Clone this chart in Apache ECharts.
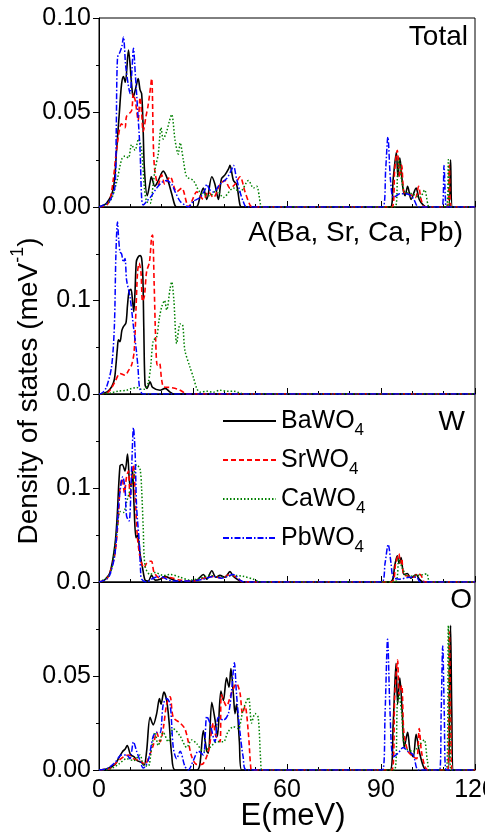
<!DOCTYPE html>
<html><head><meta charset="utf-8">
<script src="https://cdn.jsdelivr.net/npm/echarts@6/dist/echarts.min.js"></script>
<style>html,body{margin:0;padding:0;background:#fff}#c{width:485px;height:834px}</style>
</head><body><div id="c"></div>
<script>
const compounds = ['BaWO4', 'SrWO4', 'CaWO4', 'PbWO4'];
const panelLabels = ['Total', 'A(Ba, Sr, Ca, Pb)', 'W', 'O'];
const xTickLabels = ['0', '30', '60', '90', '120'];
const yTickLabels = [['0.00', '0.05', '0.10'], ['0.0', '0.1'], ['0.0', '0.1'], ['0.00', '0.05']];
const yMax = [0.10, 0.2, 0.2, 0.10];
const yStep = [0.05, 0.1, 0.1, 0.05];

// ---- Total DOS ----
const totalBa = [[0,0],[2.4,0.002],[4.6,0.01],[5.6,0.03],[6.5,0.05],[7.2,0.065],[7.8,0.069],[8.4,0.066],[9.4,0.083],[10.4,0.065],[10.9,0.058],[11.6,0.062],[12.5,0.068],[13.1,0.062],[13.6,0.06],[14,0.046],[14.5,0.02],[15.4,0.006],[16.3,0.013],[16.7,0.016],[17.8,0.011],[18.9,0.014],[20.5,0.019],[21.8,0.015],[23.2,0.007],[24.2,0.001],[24.8,0],[31,0],[32.2,0.005],[33.3,0.01],[34.4,0.004],[36,0.016],[37,0.012],[38.1,0.004],[39.1,0.015],[40.2,0.017],[41.3,0.02],[41.8,0.022],[42.9,0.014],[43.9,0.012],[45,0.001],[45.6,0],[93,0],[93.9,0.015],[94.9,0.029],[95.4,0.016],[96,0.026],[97,0.01],[97.7,0.006],[98.5,0.011],[99.6,0.004],[101.2,0.01],[102.2,0.004],[103.5,0.001],[104.5,0],[111.6,0],[112.2,0.025],[112.8,0],[120,0]];
const totalSr = [[0,0],[2.4,0.001],[3.5,0.004],[4.6,0.015],[5.6,0.03],[7.2,0.044],[8.3,0.042],[8.8,0.048],[10.4,0.051],[10.9,0.06],[11.6,0.056],[12.5,0.046],[13.1,0.058],[13.6,0.05],[14.1,0.04],[15,0.048],[15.6,0.053],[16.2,0.06],[16.8,0.068],[17.4,0.03],[17.9,0.018],[18.9,0.012],[20,0.017],[21,0.012],[22.7,0.016],[24.8,0.008],[26.4,0.01],[28,0.002],[28.6,0],[29.6,0.003],[31.2,0.008],[33.3,0.004],[34.9,0.008],[36.5,0.005],[38.6,0.012],[40.2,0.014],[41.8,0.01],[43.4,0.012],[45,0.016],[46.6,0.008],[48.2,0.001],[49,0],[93.5,0],[94.4,0.02],[95.2,0.03],[96,0.016],[96.6,0.022],[97.3,0.008],[98.5,0.007],[100,0.006],[101,0.005],[102,0.011],[102.8,0.004],[104,0],[111.2,0],[111.8,0.022],[112.4,0],[120,0]];
const totalCa = [[0,0],[3.5,0.003],[5.6,0.013],[7.2,0.025],[8.3,0.027],[9.4,0.026],[10.4,0.033],[11.5,0.03],[12.6,0.036],[13.6,0.03],[14.5,0.01],[15.2,0.003],[16.3,0.002],[17.3,0.012],[17.9,0.02],[18.9,0.028],[19.8,0.042],[20.5,0.036],[21.6,0.04],[22.4,0.045],[23.2,0.049],[24.3,0.035],[25.3,0.028],[25.9,0.034],[26.9,0.025],[28,0.016],[30.1,0.014],[32.2,0.008],[35.4,0.006],[37.6,0.009],[39.7,0.005],[42.9,0.01],[45,0.008],[47.7,0.014],[49.3,0.01],[50.3,0.011],[51.6,0.001],[52,0],[94.5,0],[95.3,0.018],[95.8,0.025],[96.6,0.014],[97.6,0.008],[100,0.007],[102.4,0.005],[103.9,0.009],[105,0.001],[105.5,0],[110.9,0],[111.5,0.025],[112,0],[120,0]];
const totalPb = [[0,0],[1.4,0.001],[3.5,0.0035],[5.1,0.011],[5.5,0.04],[5.9,0.079],[6.7,0.082],[7.3,0.085],[7.8,0.09],[8.5,0.075],[9.3,0.065],[9.9,0.06],[10.5,0.072],[11,0.084],[11.6,0.07],[12,0.06],[13.1,0.03],[13.6,0.005],[14.1,0.001],[15.2,0.003],[16.8,0.006],[18.4,0.01],[20,0.013],[21.6,0.014],[23.2,0.012],[24.3,0.008],[25.9,0.003],[27.4,0.001],[28.5,0],[30.1,0.003],[32.2,0.005],[33.8,0.009],[34.4,0.012],[35.4,0.009],[36.5,0.008],[38.6,0.012],[40.7,0.015],[42.4,0.02],[42.9,0.022],[43.9,0.015],[45,0.008],[46,0.003],[47.1,0],[90.6,0],[91.5,0.02],[92.2,0.037],[93,0.015],[93.9,0.005],[95,0.006],[96,0.007],[98,0.007],[99.5,0.006],[100.5,0.004],[102,0],[109.5,0],[110.1,0.022],[110.6,0.003],[110.9,0],[120,0]];

// ---- A-site partial DOS ----
const aBa = [[0,0],[2.4,0.002],[3.5,0.005],[4.6,0.012],[5.1,0.02],[5.9,0.05],[6.2,0.058],[6.7,0.056],[7.3,0.068],[7.8,0.072],[8.6,0.076],[9.1,0.095],[9.6,0.11],[10.2,0.112],[10.7,0.1],[11.1,0.088],[11.5,0.11],[11.9,0.141],[12.4,0.146],[13.1,0.148],[13.6,0.145],[14,0.125],[14.3,0.07],[14.7,0.01],[15.3,0.006],[16.3,0.013],[17.1,0.007],[19.5,0.004],[21.1,0.006],[22.7,0.002],[23.7,0],[120,0]];
const aSr = [[0,0],[2.4,0.001],[3.5,0.004],[5.1,0.013],[6.7,0.022],[8.3,0.02],[9.4,0.025],[10.4,0.031],[11.2,0.045],[11.8,0.09],[12.3,0.13],[12.8,0.14],[13.4,0.13],[13.9,0.099],[14.5,0.105],[15.2,0.131],[16.1,0.141],[16.8,0.168],[17.1,0.17],[17.6,0.118],[18.1,0.057],[18.6,0.031],[19.3,0.033],[20,0.015],[20.7,0.0075],[22.7,0.007],[25.3,0.005],[26.9,0.002],[27.6,0],[120,0]];
const aCa = [[0,0],[3.5,0.001],[6,0.003],[8.8,0.004],[10.5,0.006],[12,0.007],[13.5,0.005],[14.5,0.005],[15.7,0.012],[16.5,0.03],[17.3,0.057],[18.4,0.061],[19.2,0.08],[20,0.093],[20.9,0.1],[21.6,0.09],[22.7,0.113],[23.2,0.12],[23.9,0.1],[24.8,0.054],[25.9,0.075],[26.7,0.074],[27.4,0.047],[29,0.029],[30.1,0.018],[31.2,0.006],[32.2,0.002],[34.4,0.003],[36.5,0.002],[38.6,0.004],[41,0.003],[43,0.003],[45,0.001],[46.5,0],[120,0]];
const aPb = [[0,0],[1,0.001],[2.4,0.0075],[4,0.029],[4.9,0.072],[5.4,0.15],[5.9,0.184],[6.3,0.165],[6.7,0.152],[7.2,0.15],[7.8,0.141],[8.3,0.145],[8.8,0.122],[9.9,0.104],[11,0.072],[11.8,0.05],[12.4,0.03],[12.9,0.0075],[13.6,0.001],[14.2,0],[120,0]];

// ---- W partial DOS ----
const wBa = [[0,0],[1.4,0.001],[3.5,0.01],[5.1,0.04],[5.8,0.07],[6.7,0.1235],[7.4,0.125],[8.3,0.118],[9.1,0.136],[9.9,0.102],[10.4,0.105],[10.7,0.12],[11.2,0.08],[11.8,0.047],[12.3,0.05],[13.1,0.03],[13.9,0.015],[14.7,0.002],[15.7,0.001],[16.8,0.007],[17.9,0.002],[19.5,0.003],[21.1,0.006],[23.2,0.003],[25.9,0],[31.2,0.002],[33.3,0.008],[34.4,0.003],[36,0.012],[37.3,0.005],[38.6,0.007],[40.2,0.005],[41.8,0.011],[42.9,0.006],[45,0.001],[46,0],[92.9,0],[94.4,0.018],[95.2,0.028],[95.8,0.02],[96.4,0.026],[97.3,0.008],[98.4,0.009],[99.5,0.004],[101.2,0.008],[102.2,0.003],[103.5,0],[120,0]];
const wSr = [[0,0],[2.4,0.003],[3.5,0.01],[5.1,0.03],[6.2,0.07],[6.7,0.1],[7.4,0.11],[8.1,0.095],[8.8,0.112],[9.4,0.118],[9.9,0.09],[10.6,0.112],[11,0.125],[11.6,0.09],[12.2,0.05],[12.9,0.03],[13.6,0.02],[14.4,0.015],[15.2,0.02],[16.3,0.022],[16.8,0.022],[17.6,0.01],[19.5,0.004],[21.6,0.005],[23.7,0.004],[25.9,0.002],[30.1,0.001],[33.3,0.004],[36.5,0.006],[39.1,0.004],[41.8,0.008],[43.9,0.005],[46,0],[93.3,0],[94.7,0.02],[95.7,0.03],[96.2,0.02],[96.6,0.025],[97.3,0.008],[99.2,0.006],[100.3,0.005],[101.7,0.009],[102.8,0.007],[104,0],[120,0]];
const wCa = [[0,0],[3.5,0.008],[5.6,0.05],[6.7,0.075],[7.8,0.074],[8.8,0.085],[10.1,0.1],[11,0.11],[12,0.125],[13.1,0.12],[13.6,0.099],[14.1,0.059],[14.7,0.017],[16.3,0.008],[17.9,0.01],[20.5,0.007],[22.7,0.008],[25.9,0.005],[29,0.002],[32.2,0.004],[35.4,0.007],[38.6,0.005],[42.9,0.007],[46,0.006],[49.3,0.003],[51.4,0],[94.5,0],[95.7,0.024],[96.8,0.015],[98.4,0.006],[101.4,0.007],[103.7,0.008],[104.6,0.009],[105.7,0],[120,0]];
const wPb = [[0,0],[2.4,0.003],[3.5,0.008],[5.1,0.03],[6.5,0.09],[7.6,0.112],[8.3,0.1],[8.8,0.07],[9.6,0.065],[10.4,0.12],[11,0.164],[11.5,0.14],[12,0.08],[12.9,0.04],[13.3,0.01],[13.6,0.003],[15.2,0],[17.3,0.004],[19.5,0.006],[21.6,0.003],[23.7,0.001],[30,0.001],[33.3,0.003],[36.5,0.006],[39.1,0.004],[42.9,0.008],[45,0.002],[46.5,0],[90.2,0],[91.3,0.02],[92.3,0.04],[93.2,0.02],[93.9,0.005],[96,0.003],[99,0.005],[101.4,0.005],[102.5,0],[120,0]];

// ---- O partial DOS ----
const oBa = [[0,0],[2.4,0.0005],[5.1,0.003],[6.5,0.007],[7.6,0.01],[8.3,0.011],[9,0.013],[10.1,0.008],[11.2,0.007],[12.2,0.005],[13.6,0.004],[14.4,0.0025],[15.2,0.01],[16.3,0.028],[17.3,0.024],[18.4,0.03],[19.3,0.038],[19.8,0.035],[20.7,0.0415],[21.6,0.037],[22.4,0.025],[23.2,0.008],[24.3,0],[31.2,0],[32.2,0.003],[33.3,0.021],[34.4,0.01],[34.9,0.009],[36,0.036],[37,0.027],[37.8,0.018],[38.9,0.042],[39.7,0.037],[40.7,0.049],[41.5,0.044],[42.1,0.054],[42.9,0.04],[43.4,0.03],[43.9,0.035],[44.8,0.015],[45.5,0],[92.9,0],[93.9,0.025],[94.8,0.0568],[95.3,0.035],[96,0.049],[96.8,0.03],[97.4,0.012],[98.5,0.02],[99.3,0.01],[100.3,0.007],[101.2,0.019],[102.2,0.01],[103.5,0.002],[104.5,0],[111.5,0],[111.9,0.04],[112.2,0.077],[112.6,0.03],[113.1,0],[120,0]];
const oSr = [[0,0],[3.5,0.0008],[5.6,0.004],[7.8,0.007],[9.4,0.008],[11,0.006],[13.1,0.005],[14.7,0.003],[15.7,0.006],[17.3,0.013],[18.4,0.02],[19.5,0.015],[20.5,0.022],[21.6,0.035],[22.7,0.039],[23.7,0.028],[25.9,0.025],[27.4,0.022],[28.5,0.015],[29.6,0.007],[31.2,0.003],[32.8,0.003],[34.9,0.01],[36.5,0.025],[37.3,0.018],[38.6,0.015],[39.1,0.04],[40.7,0.034],[42.3,0.041],[43.9,0.046],[45,0.041],[45.8,0.03],[46.6,0.034],[47.7,0.019],[48.4,0.002],[48.8,0],[93.5,0],[94.4,0.04],[95.3,0.0585],[95.8,0.04],[96.6,0.045],[97.3,0.02],[98.6,0.01],[100.3,0.007],[101.4,0.006],[102.2,0.022],[102.9,0.01],[104,0.002],[105,0],[111.3,0],[111.8,0.0735],[112.3,0.02],[112.7,0],[120,0]];
const oCa = [[0,0],[3.5,0.0005],[6.2,0.003],[8.8,0.006],[11,0.005],[13.1,0.008],[14.1,0.003],[15.7,0.002],[16.8,0.012],[17.9,0.02],[18.9,0.013],[20.5,0.02],[22.1,0.015],[23.7,0.022],[25.9,0.018],[28,0.012],[29.6,0.016],[31.2,0.014],[33.3,0.01],[35.4,0.012],[37.6,0.015],[39.7,0.015],[41.1,0.02],[42.9,0.023],[44.4,0.022],[46,0.032],[47.7,0.0385],[48.7,0.025],[49.8,0.03],[50.8,0.028],[51.6,0.005],[52,0],[94.3,0],[95.2,0.035],[95.7,0.04],[96.6,0.03],[97.6,0.012],[100.3,0.01],[102.6,0.014],[103.8,0.016],[104.8,0.005],[105.6,0],[110.9,0],[111.5,0.077],[112,0.02],[112.3,0],[120,0]];
const oPb = [[0,0],[2.4,0.0006],[5.1,0.004],[7.2,0.008],[8.8,0.008],[9.9,0.006],[11,0.015],[12,0.01],[13.1,0.005],[14.1,0.001],[15.7,0.005],[17.3,0.018],[18.4,0.02],[19.5,0.02],[20.5,0.035],[21.6,0.038],[22.7,0.035],[23.7,0.012],[24.8,0.006],[25.9,0.01],[27.4,0.002],[28.5,0],[30.1,0.005],[31.7,0.01],[33.3,0.008],[34.4,0.0286],[35.4,0.025],[37,0.015],[38.1,0.028],[39.7,0.0265],[41.3,0.03],[42.3,0.042],[43.2,0.057],[43.9,0.04],[45,0.02],[46,0.007],[47.1,0],[90.5,0],[91.3,0.03],[92.1,0.0695],[92.9,0.03],[93.9,0.007],[95.5,0.009],[97.1,0.012],[98.5,0.01],[100.3,0.008],[102,0],[108.7,0],[109.2,0.03],[109.7,0.066],[110.2,0.03],[110.8,0],[120,0]];

const panelData = [
  [totalBa, totalSr, totalCa, totalPb],
  [aBa, aSr, aCa, aPb],
  [wBa, wSr, wCa, wPb],
  [oBa, oSr, oCa, oPb]
];

const FONT = 'Liberation Sans';
const gridTops = [18, 207, 394, 582];
const gridHeights = [189, 187, 188, 188];
const styles = [
  { color: '#000000', width: 1.6, type: 'solid' },
  { color: '#ff0000', width: 1.6, type: [5, 3] },
  { color: '#008000', width: 1.5, type: [1.5, 2] },
  { color: '#0000ff', width: 1.5, type: [6, 2, 1.5, 2] }
];

const grids = [], xAxes = [], yAxes = [], series = [];
for (let p = 0; p < 4; p++) {
  grids.push({ left: 99, width: 376, top: gridTops[p], height: gridHeights[p], show: true, borderColor: '#000', borderWidth: 1, backgroundColor: 'transparent', containLabel: false, outerBoundsMode: 'none' });
  xAxes.push({
    type: 'value', gridIndex: p, min: 0, max: 120, interval: 30,
    axisLine: { show: true, lineStyle: { color: '#000', width: 1 } },
    axisTick: { show: true, inside: true, length: 6, lineStyle: { color: '#000' } },
    minorTick: { show: true, splitNumber: 3, length: 3, lineStyle: { color: '#000' } },
    splitLine: { show: false },
    axisLabel: {
      show: p === 3, margin: 8, color: '#000', fontSize: 25, fontFamily: FONT,
      formatter: v => xTickLabels[Math.round(v / 30)] || ''
    }
  });
  yAxes.push({
    type: 'value', gridIndex: p, min: 0, max: yMax[p], interval: yStep[p],
    axisLine: { show: true, lineStyle: { color: '#000', width: 1 } },
    axisTick: { show: true, inside: false, length: 6, lineStyle: { color: '#000' } },
    minorTick: { show: true, splitNumber: 2, length: 3, lineStyle: { color: '#000' } },
    splitLine: { show: false },
    axisLabel: {
      margin: 8, color: '#000', fontSize: 25, fontFamily: FONT,
      formatter: v => yTickLabels[p][Math.round(v / yStep[p])] || ''
    }
  });
  for (let s = 0; s < 4; s++) {
    series.push({
      type: 'line', name: compounds[s], xAxisIndex: p, yAxisIndex: p,
      data: panelData[p][s], symbol: 'none', smooth: 0.3, clip: true,
      lineStyle: { color: styles[s].color, width: styles[s].width, type: styles[s].type },
      itemStyle: { color: styles[s].color },
      z: 2 + s
    });
  }
}

const legendCenters = [421, 460, 499, 538];
const legends = compounds.map((n, i) => ({
  data: [n], left: 222, top: legendCenters[i] - 18, padding: 0,
  orient: 'vertical', itemWidth: 53, itemHeight: 14, selectedMode: false,
  itemStyle: { opacity: 0 },
  formatter: name => name.replace('4', '') + '{sub|4}',
  textStyle: {
    color: '#000', fontSize: 25, fontFamily: FONT, lineHeight: 36,
    rich: { sub: { fontSize: 17, fontFamily: FONT, lineHeight: 17, verticalAlign: 'bottom', color: '#000' } }
  }
}));

const panelLabelPos = [[468, 37], [463, 233], [465, 422], [472, 600]];
const graphics = panelLabels.map((t, i) => ({
  type: 'text', x: panelLabelPos[i][0], y: panelLabelPos[i][1],
  style: { text: t, fontSize: 28, fontFamily: FONT, fill: '#000', align: 'right', verticalAlign: 'middle' }
}));
graphics.push({
  type: 'text', x: 293, y: 816,
  style: { text: 'E(meV)', fontSize: 31, fontFamily: FONT, fill: '#000', align: 'center', verticalAlign: 'middle' }
});
graphics.push({
  type: 'text', x: 29, y: 391, rotation: Math.PI / 2,
  style: {
    text: 'Density of states (meV{sup|-1})', fontSize: 28, fontFamily: FONT, fill: '#000',
    align: 'center', verticalAlign: 'middle', lineHeight: 40,
    rich: { sup: { fontSize: 18, fontFamily: FONT, fill: '#000', lineHeight: 18, verticalAlign: 'top' } }
  }
});

const chart = echarts.init(document.getElementById('c'), null, { renderer: 'canvas' });
chart.setOption({
  animation: false,
  backgroundColor: '#fff',
  grid: grids, xAxis: xAxes, yAxis: yAxes, series: series,
  legend: legends,
  graphic: graphics
});
</script></body></html>
